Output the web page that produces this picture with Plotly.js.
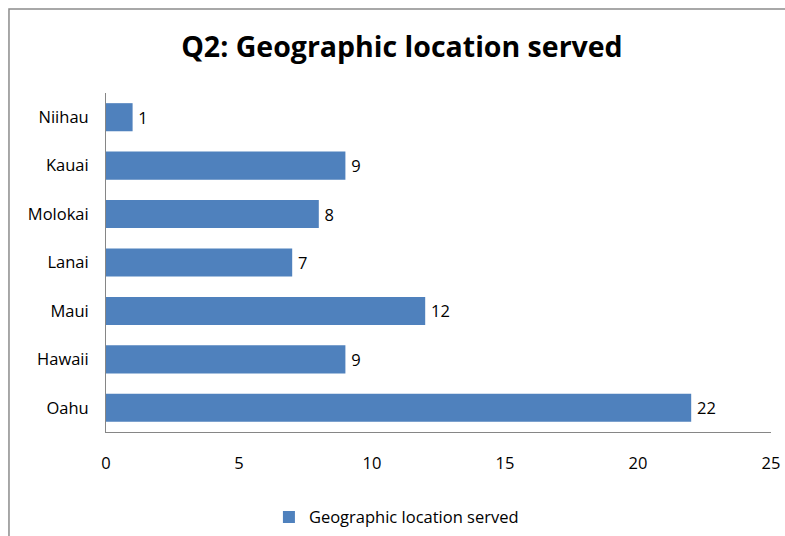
<!DOCTYPE html>
<html>
<head>
<meta charset="utf-8">
<script src="https://cdn.plot.ly/plotly-3.0.1.min.js"></script>
<style>html,body{margin:0;padding:0;background:#fff;}#chart{width:785px;height:536px;}</style>
</head>
<body>
<div id="chart"></div>
<script>
const categories = ["Oahu", "Hawaii", "Maui", "Lanai", "Molokai", "Kauai", "Niihau"];
const values = [22, 9, 12, 7, 8, 9, 1];
const seriesName = "Geographic location served";
const xTicks = [0, 5, 10, 15, 20, 25];

const FONT = "'Open Sans', sans-serif";
const trace = {
  type: "bar",
  orientation: "h",
  y: categories,
  x: values,
  name: seriesName,
  marker: {color: "#4F81BD"},
  texttemplate: "\u2009%{x}",
  textposition: "outside",
  cliponaxis: false,
  textfont: {family: FONT, size: 16.5, color: "#000"},
  showlegend: true
};

const layout = {
  width: 785, height: 536,
  margin: {l: 106, r: 14, t: 93, b: 104},
  paper_bgcolor: "#fff", plot_bgcolor: "#fff",
  bargap: 0.42,
  font: {family: FONT, size: 16.5, color: "#000"},
  title: {text: "<b>Q2: Geographic location served</b>", font: {family: FONT, size: 28.5, color: "#000"},
          xref: "container", x: 0.512, xanchor: "center", yref: "container", y: 0.913, yanchor: "middle"},
  xaxis: {range: [0, 25], tickvals: xTicks, showgrid: false, zeroline: false,
          showline: true, linecolor: "#868686", linewidth: 1, ticks: "", ticklabelstandoff: 16,
          tickfont: {family: FONT, size: 16.5, color: "#000"}},
  yaxis: {showgrid: false, zeroline: false, showline: true, linecolor: "#868686", linewidth: 1,
          ticks: "", ticklabelstandoff: 13, tickfont: {family: FONT, size: 16.5, color: "#000"}},
  legend: {orientation: "h", xref: "container", x: 0.505, xanchor: "center", yref: "container", y: 0.035, yanchor: "middle",
           font: {family: FONT, size: 16.5, color: "#000"}},
  shapes: [{type: "rect", xref: "paper", yref: "paper", x0: -0.1459, x1: 1.2, y0: -0.5, y1: 1.2478,
            line: {color: "#8c8c8c", width: 1.5}, fillcolor: "rgba(0,0,0,0)", layer: "below"}]
};

Plotly.newPlot("chart", [trace], layout, {displayModeBar: false, staticPlot: true});
</script>
</body>
</html>
